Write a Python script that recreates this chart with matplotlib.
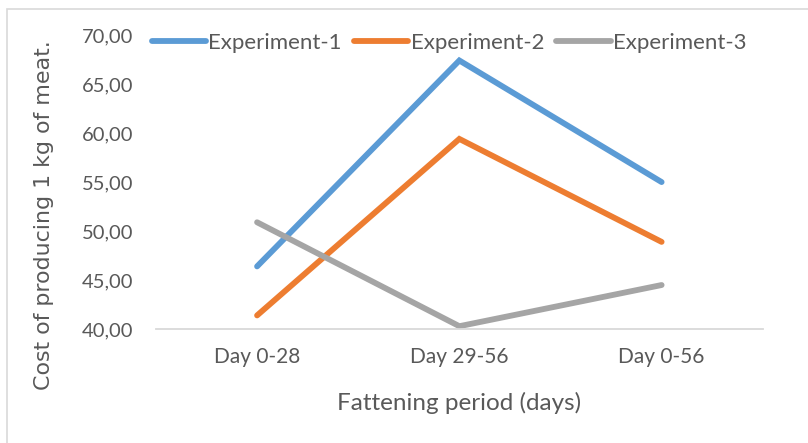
import matplotlib.pyplot as plt
from matplotlib.patches import Rectangle

# Data
periods = ['Day 0-28', 'Day 29-56', 'Day 0-56']
experiment_1 = [46.4, 67.4, 55.0]
experiment_2 = [41.4, 59.4, 48.9]
experiment_3 = [50.9, 40.3, 44.5]
y_ticks = [40, 45, 50, 55, 60, 65, 70]

text_color = '#595959'
colors = ['#5B9BD5', '#ED7D31', '#A5A5A5']

fig = plt.figure(figsize=(8.08, 4.43), dpi=100)
ax = fig.add_axes([0.193, 0.257, 0.751, 0.664])

# light frame around the chart area
fig.patches.append(Rectangle((0.009, -0.05), 1.2, 1.03, transform=fig.transFigure,
                             fill=False, edgecolor='#D9D9D9', linewidth=1.2))

x = range(len(periods))
series = [('Experiment-1', experiment_1), ('Experiment-2', experiment_2), ('Experiment-3', experiment_3)]
for (name, values), c in zip(series, colors):
    ax.plot(x, values, color=c, linewidth=4.2, solid_capstyle='round',
            solid_joinstyle='miter', label=name)

ax.set_xlim(-0.5, 2.5)
ax.set_ylim(40, 70)
ax.set_yticks(y_ticks)
ax.set_yticklabels([f'{v:.2f}'.replace('.', ',') for v in y_ticks])
ax.set_xticks(list(x))
ax.set_xticklabels(periods)

for side in ['top', 'right', 'left']:
    ax.spines[side].set_visible(False)
ax.spines['bottom'].set_color('#D9D9D9')
ax.spines['bottom'].set_linewidth(1.3)

ax.tick_params(axis='y', length=0, pad=16, labelsize=14.5, labelcolor=text_color)
ax.tick_params(axis='x', length=0, pad=13, labelsize=15, labelcolor=text_color)
for lbl in ax.get_xticklabels() + ax.get_yticklabels():
    lbl.set_family('Lato')

ax.set_xlabel('Fattening period (days)', fontsize=17.5, color=text_color,
              family='Lato', labelpad=18)
# y title sits a bit lower than the plot centre in the original
fig.text(0.0545, 0.515, 'Cost of producing 1 kg of meat.', rotation=90,
         ha='center', va='center', fontsize=15.9, color=text_color,
         family='DejaVu Sans')

ax.legend(loc='center', bbox_to_anchor=(0.483, 0.972), ncol=3, frameon=False,
          handlelength=2.45, handletextpad=0.1, columnspacing=0.55,
          prop={'family': 'Lato', 'size': 16}, labelcolor=text_color)

fig.savefig('out.png', dpi=100)
